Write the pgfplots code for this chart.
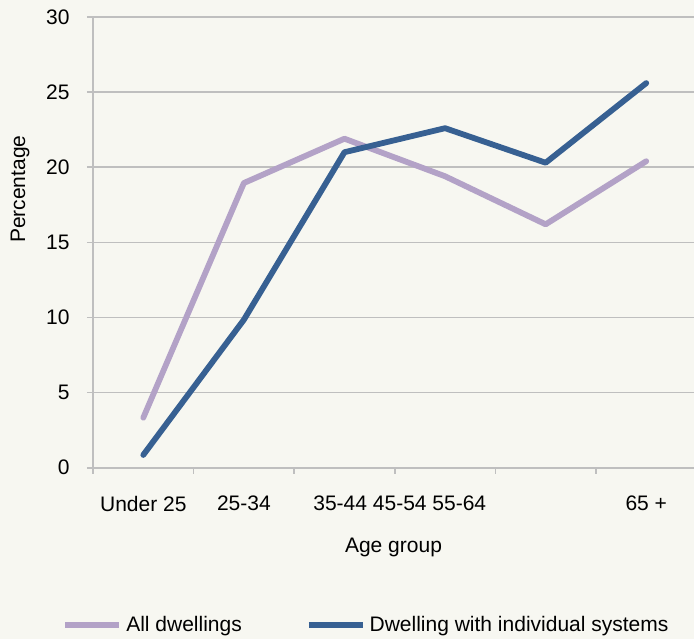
\documentclass[border=0pt]{standalone}
\usepackage{pgfplots}
\pgfplotsset{compat=1.18}
\usepackage{fontspec}
\setmainfont{Liberation Sans}
\definecolor{bgc}{HTML}{F7F7F1}
\definecolor{gridc}{HTML}{BFBFBF}
\definecolor{purp}{HTML}{B3A2C7}
\definecolor{blu}{HTML}{376092}
\begin{document}
\fontsize{10.5}{12.6}\selectfont
\begin{tikzpicture}
\path[use as bounding box, fill=bgc] (-46.5pt,-85.65pt) rectangle (300.5pt,233.85pt);
\begin{axis}[
  at={(0,0)}, anchor=south west,
  scale only axis,
  width=300.5pt, height=225.35pt,
  xmin=-0.5, xmax=5.475,
  ymin=0, ymax=30,
  ytick={0,5,...,30},
  xtick={-0.5,0.5,1.5,2.5,3.5,4.5},
  xticklabels={},
  extra x ticks={0,1,2.55,5},
  extra x tick labels={Under 25,25-34,35-44 45-54 55-64,65 +},
  extra x tick style={major tick length=0pt, xticklabel style={yshift=-10.5pt}},
  axis lines*=left,
  axis line style={gridc, line width=0.8pt},
  tick style={gridc, line width=0.8pt},
  tick align=outside,
  major tick length=3pt,
  ymajorgrids,
  grid style={gridc, line width=0.8pt},
  yticklabel style={xshift=-5pt},
  font=\fontsize{10.5}{12.6}\selectfont,
  /pgf/number format/assume math mode=true,
  xlabel={Age group},
  xlabel style={at={(axis description cs:0.5,-0.178)}, anchor=center},
  ylabel={Percentage},
  ylabel style={at={(axis description cs:-0.1215,0.618)}, anchor=center},
  legend columns=2,
  legend style={draw=none, fill=none, at={(axis description cs:0.4567,-0.349)}, anchor=center,
    /tikz/every even column/.append style={column sep=30pt}},
  legend image code/.code={\draw[#1, line cap=butt] (0pt,0pt) -- (27pt,0pt);},
]
\addplot[purp, line width=2.9pt, line join=round, line cap=round] coordinates {
(0,3.33) (1,18.95) (2,21.9) (3,19.4) (4,16.2) (5,20.4)};
\addlegendentry{All dwellings}
\addplot[blu, line width=2.9pt, line join=round, line cap=round] coordinates {
(0,0.85) (1,9.85) (2,21.0) (3,22.6) (4,20.3) (5,25.6)};
\addlegendentry{Dwelling with individual systems}
\end{axis}
\end{tikzpicture}
\end{document}
